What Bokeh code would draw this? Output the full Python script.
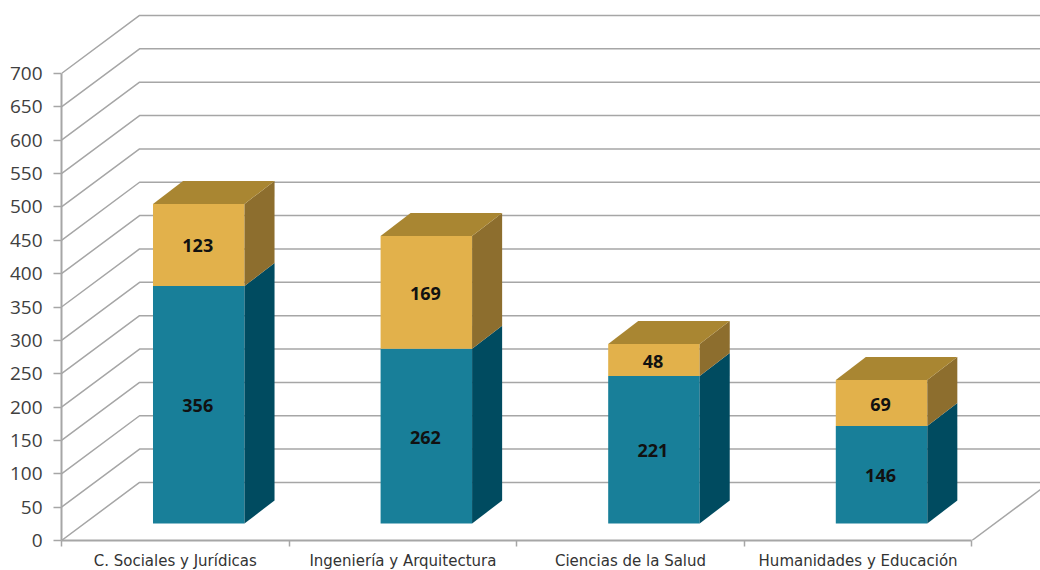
from bokeh.plotting import figure
from bokeh.models import FixedTicker, Range1d
from bokeh.core.properties import value
from bokeh.embed import file_html
from bokeh.resources import INLINE

categories = ["C. Sociales y Jurídicas", "Ingeniería y Arquitectura", "Ciencias de la Salud", "Humanidades y Educación"]
teal_values = [356, 262, 221, 146]
gold_values = [123, 169, 48, 69]
y_ticks = list(range(0, 701, 50))

# Depth of the 3D box, in axis units
SLOT_PX = 227.6
WALL_DX, WALL_DY = 0.343, 87.0
BAR_DX, BAR_DY = 0.132, 34.5
BAR_LEFT, BAR_W, BAR_BASE = 0.402, 0.402, 25.5
X_END = 979 / SLOT_PX
Y_END = 540 / 0.66714

TEAL, TEAL_SIDE = "#187f99", "#004b60"
GOLD, GOLD_SIDE, GOLD_TOP = "#e2b14b", "#8d6e2e", "#a98632"
GRID = "#a6a6a6"

p = figure(frame_width=979, frame_height=540, output_backend="svg", toolbar_location=None,
           x_range=Range1d(0, X_END), y_range=Range1d(0, Y_END),
           min_border_left=61, min_border_right=0, min_border_top=0, min_border_bottom=30,
           outline_line_color=None, margin=(0, 0, 0, 0))
p.grid.visible = False

# Walls
xs = [[0, WALL_DX, X_END + 1] for _ in y_ticks]
ys = [[v, v + WALL_DY, v + WALL_DY] for v in y_ticks]
p.multi_line(xs, ys, line_color=GRID, line_width=1.5)
p.line([4, 4 + WALL_DX], [0, WALL_DY], line_color=GRID, line_width=1.5)

# Bars
def box(i, lo, hi, front, side, top=None):
    x0 = i + BAR_LEFT
    x1 = x0 + BAR_W
    y0 = BAR_BASE + lo
    y1 = BAR_BASE + hi
    p.quad(left=[x0], right=[x1], bottom=[y0], top=[y1], fill_color=front, line_color=None)
    p.patch([x1, x1 + BAR_DX, x1 + BAR_DX, x1],
            [y0, y0 + BAR_DY, y1 + BAR_DY, y1], fill_color=side, line_color=None)
    if top:
        p.patch([x0, x0 + BAR_DX, x1 + BAR_DX, x1],
                [y1, y1 + BAR_DY, y1 + BAR_DY, y1], fill_color=top, line_color=None)

for i, (t, g) in enumerate(zip(teal_values, gold_values)):
    box(i, 0, t, TEAL, TEAL_SIDE)
    box(i, t, t + g, GOLD, GOLD_SIDE, GOLD_TOP)
    cx = i + BAR_LEFT + BAR_W / 2
    p.text([cx, cx], [BAR_BASE + t / 2, BAR_BASE + t + g / 2], text=[str(t), str(g)],
           text_font=value("Open Sans"), text_font_style="bold", text_font_size="18px",
           text_color="#111111", text_align="center", text_baseline="middle",
           x_offset=-1, y_offset=1)

# Axes
ya = p.yaxis[0]
ya.ticker = FixedTicker(ticks=y_ticks)
ya.bounds = (0, 700)
ya.axis_line_color = GRID
ya.axis_line_width = 2
ya.major_tick_line_color = GRID
ya.major_tick_line_width = 1.5
ya.major_tick_out = 8
ya.major_tick_in = 0
ya.minor_tick_line_color = None
ya.major_label_standoff = 11
ya.major_label_text_font = "Open Sans"
ya.major_label_text_font_size = "19px"
ya.major_label_text_color = "#404040"

xa = p.xaxis[0]
xa.ticker = FixedTicker(ticks=[i + 0.5 for i in range(4)], minor_ticks=list(range(5)))
xa.major_label_overrides = {i + 0.5: c for i, c in enumerate(categories)}
xa.bounds = (0, 4)
xa.axis_line_color = GRID
xa.axis_line_width = 2
xa.major_tick_line_color = None
xa.minor_tick_line_color = GRID
xa.minor_tick_line_width = 1.5
xa.minor_tick_out = 6
xa.minor_tick_in = 0
xa.major_label_standoff = 5
xa.major_label_text_font = "DejaVu Sans"
xa.major_label_text_font_size = "15px"
xa.major_label_text_color = "#333333"

open("out.html", "w").write(file_html(p, INLINE))
